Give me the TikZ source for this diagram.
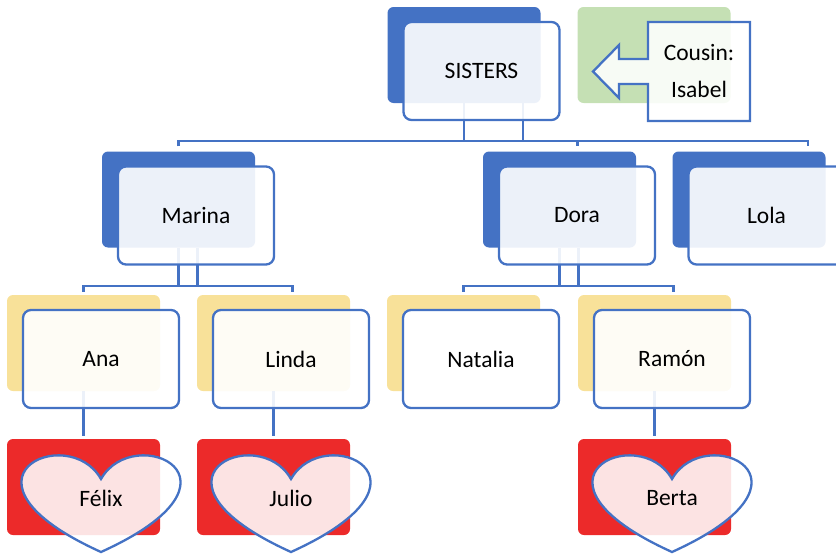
\documentclass[tikz,border=0pt]{standalone}
\usepackage{fontspec}
\setmainfont{Carlito}

\definecolor{accblue}{HTML}{4472C4}
\definecolor{kidgold}{HTML}{F8E199}
\definecolor{kidred}{HTML}{EC2A2A}
\definecolor{cousgreen}{HTML}{C5E0B4}

\newcommand{\namefont}{\fontsize{23.5}{37}\selectfont}

\begin{document}
\begin{tikzpicture}[x=1pt, y=-1pt,
  plate/.style={rectangle, rounded corners=6pt, minimum width=153pt, minimum height=96pt, inner sep=0pt},
  card/.style={rectangle, rounded corners=8pt, minimum width=156pt, minimum height=98pt,
    draw=accblue, line width=2.3pt, fill=white, fill opacity=0.9, text opacity=1, font=\namefont},
  link/.style={draw=accblue, line width=2.3pt},
  heartline/.style={draw=accblue, line width=2.3pt, fill=white, fill opacity=0.87}]

\useasboundingbox (0,0) rectangle (836,554);

% ── Back plates ──
\foreach \nm/\x/\y/\col in {sisters/464/55/accblue, marina/178.5/199.5/accblue, dora/559.5/199.5/accblue,
    lola/749/199.5/accblue, ana/83.5/343/kidgold, linda/273.5/343/kidgold, natalia/463.5/343/kidgold,
    ramon/654.5/343/kidgold, felix/83.5/487/kidred, julio/273.5/487/kidred, berta/654.5/487/kidred} {
  \node[plate, fill=\col] (\nm-bk) at (\x,\y) {};
}
\node[plate, fill=cousgreen] (cousin-bk) at (654,55) {};

% ── Connectors ──
% sisters -> row 1
\draw[link] (sisters-bk.south) -- ++(0,38) coordinate (s1);
\draw[link] ([xshift=59pt]sisters-bk.south) -- ++(0,38) coordinate (s2);
\draw[link] ([yshift=5pt]marina-bk.north) |- (s1) -- (s2) -| ([xshift=18pt,yshift=5pt]dora-bk.north);
\draw[link] (s2) -| ([xshift=59pt,yshift=5pt]lola-bk.north);

% marina -> ana, linda
\draw[link] (marina-bk.south) -- ++(0,38) coordinate (m1);
\draw[link] ([xshift=19pt]marina-bk.south) -- ++(0,38) coordinate (m2);
\draw[link] ([yshift=3pt]ana-bk.north) |- (m1) -- (m2) -| ([xshift=19pt,yshift=3pt]linda-bk.north);

% dora -> natalia, ramon
\draw[link] (dora-bk.south) -- ++(0,38) coordinate (d1);
\draw[link] ([xshift=19pt]dora-bk.south) -- ++(0,38) coordinate (d2);
\draw[link] ([yshift=3pt]natalia-bk.north) |- (d1) -- (d2) -| ([xshift=19pt,yshift=3pt]ramon-bk.north);

% row 2 -> hearts
\draw[link] (ana-bk.south) -- ([yshift=3pt]felix-bk.north);
\draw[link] (linda-bk.south) -- ([yshift=3pt]julio-bk.north);
\draw[link] (ramon-bk.south) -- ([yshift=3pt]berta-bk.north);

% ── Front cards ──
\foreach \nm/\x/\y/\txt in {sisters/464/55/SISTERS, marina/178.5/199.5/Marina, dora/559.5/199.5/Dora,
    lola/749/199.5/Lola, ana/83.5/343/Ana, linda/273.5/343/Linda, ramon/654.5/343/Ramón} {
  \node[card] (\nm) at (\x+17.5,\y+16) {\txt};
}
\node[card, fill opacity=1] (natalia) at (481,359) {Natalia};

% ── Cousin callout ──
\draw[link, fill=white, fill opacity=0.88] (648,22) -- (750,22) -- (750,121) -- (648,121) -- (648,84)
  -- (619,84) -- (619,98) -- (593,71.5) -- (619,45) -- (619,59) -- (648,59) -- cycle;
\node[font=\namefont, align=center] (cousin) at (699,71.5) {Cousin:\\Isabel};

% ── Hearts ──
\foreach \nm/\x/\txt in {felix/83.5/Félix, julio/273.5/Julio, berta/654.5/Berta} {
  \begin{scope}[shift={(\x,487)}]
    \draw[heartline] (17.5,-8) .. controls (50.4,-66) and (178.8,-8) .. (17.5,65)
      .. controls (-143.8,-8) and (-15.4,-66) .. (17.5,-8) -- cycle;
    \node[font=\namefont] (\nm) at (17.5,11) {\txt};
  \end{scope}
}

\end{tikzpicture}
\end{document}
